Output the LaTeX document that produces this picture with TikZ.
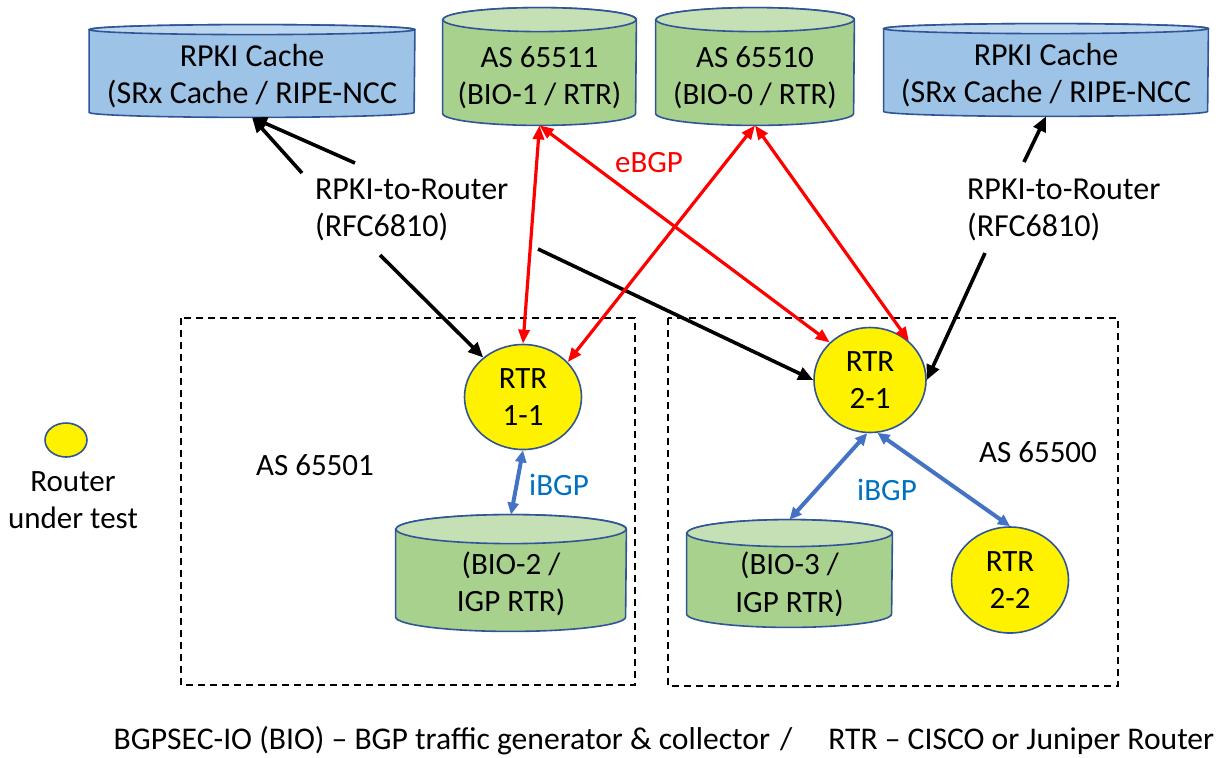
\documentclass[tikz,border=0pt]{standalone}
\usepackage{fontspec}
\setmainfont{Carlito}
\usetikzlibrary{arrows.meta,positioning,shapes.geometric}

\definecolor{cacheblue}{HTML}{9DC3E6}
\definecolor{cachetop}{HTML}{BDD7EE}
\definecolor{biogreen}{HTML}{A9D18E}
\definecolor{biotop}{HTML}{C5E0B4}
\definecolor{edgeblue}{HTML}{2F5597}
\definecolor{ibgpblue}{HTML}{4472C4}
\definecolor{ibgptext}{HTML}{0070C0}

% database drum: [kind] name, position, half width, half height, end radius, text
\newcommand{\dbnode}[7][bio]{%
    \node[minimum width=2*#4, minimum height=2*#5, inner sep=0pt] (#2) at #3 {};
    \path[db, #1 body] ([yshift=-#6]#2.north west) -- ([yshift=#6]#2.south west)
        arc[start angle=180, end angle=360, x radius=#4, y radius=#6]
        -- ([yshift=-#6]#2.north east)
        arc[start angle=0, end angle=180, x radius=#4, y radius=#6] -- cycle;
    \path[db, #1 end] ([yshift=-#6]#2.north) ellipse[x radius=#4, y radius=#6];
    \node[#1 text] (#2-txt) at (#2.center) {#7};
}

\begin{document}
\begin{tikzpicture}[
    x=0.5pt, y=-0.5pt,
    every node/.style={font=\fontsize{15.5}{18.75}\selectfont, align=center},
    big/.style={font=\fontsize{16}{18.75}\selectfont},
    db/.style={draw=edgeblue, line width=0.8pt},
    cache body/.style={fill=cacheblue},
    cache end/.style={fill=cachetop},
    cache text/.style={big, yshift=-2.5pt},
    bio body/.style={fill=biogreen},
    bio end/.style={fill=biotop},
    bio text/.style={yshift=-5.5pt},
    rtr/.style={ellipse, draw=edgeblue, line width=0.8pt, fill=yellow, inner sep=0pt},
    asbox/.style={draw, line width=1pt, dash pattern=on 3.5pt off 2.5pt},
    rpki/.style={-{Triangle[length=7.5pt,width=6.5pt]}, line width=1.8pt},
    ebgp/.style={{Triangle[length=7pt,width=5.5pt]}-{Triangle[length=7pt,width=5.5pt]}, line width=1.6pt, red},
    ibgp/.style={{Triangle[length=6pt,width=5.5pt]}-{Triangle[length=6pt,width=5.5pt]}, line width=2pt, ibgpblue}
]
    \useasboundingbox (0,0) rectangle (1225,757);

    % AS boxes
    \draw[asbox] (181,318) rectangle (635,685);
    \draw[asbox] (668,318) rectangle (1118,686);

    % Caches and BIOs on top
    \dbnode[cache]{cacheL}{(252,71)}{81.25pt}{23pt}{2.5pt}{RPKI Cache\\(SRx Cache / RIPE-NCC}
    \dbnode[cache]{cacheR}{(1046,70)}{81pt}{23pt}{2.5pt}{RPKI Cache\\(SRx Cache / RIPE-NCC}
    \dbnode{bio1}{(539.5,66.5)}{48.25pt}{29.25pt}{6pt}{AS 65511\\(BIO-1 / RTR)}
    \dbnode{bio0}{(755,66.5)}{49.5pt}{29.25pt}{6pt}{AS 65510\\(BIO-0 / RTR)}

    % Routers
    \node[rtr, minimum width=58.5pt, minimum height=52.5pt] (rtr11) at (523,397) {RTR\\1-1};
    \node[rtr, minimum width=56pt, minimum height=52.5pt] (rtr21) at (870,380) {RTR\\2-1};
    \node[rtr, minimum width=58.5pt, minimum height=53pt] (rtr22) at (1010,580) {RTR\\2-2};

    % Inner BIOs
    \dbnode{bio2}{(511,573)}{57.5pt}{29pt}{7.25pt}{(BIO-2 /\\IGP RTR)}
    \dbnode{bio3}{(789.5,573.5)}{51.25pt}{26.75pt}{6.75pt}{(BIO-3 /\\IGP RTR)}

    % Labels
    \node[big, anchor=west, align=left] (lblL) at (308,210) {RPKI-to-Router\\(RFC6810)};
    \node[big, anchor=west, align=left] (lblR) at (960,210) {RPKI-to-Router\\(RFC6810)};
    \node[text=red] (lblE) at (649,163) {eBGP};
    \node[text=ibgptext] (lblI1) at (559,485) {iBGP};
    \node[text=ibgptext] (lblI2) at (887,490) {iBGP};
    \node (as1) at (315,465) {AS 65501};
    \node (as0) at (1038,452) {AS 65500};

    % Legend
    \node[rtr, minimum width=21pt, minimum height=17pt] (key) at (66,440) {};
    \node (keytxt) at (73,500) {Router\\under test};
    \node[font=\fontsize{15.8}{18.75}\selectfont] (note) at (664,741)
        {BGPSEC-IO (BIO) -- BGP traffic generator \& collector\hspace{5pt}/\hspace{18pt}RTR -- CISCO or Juniper Router};

    % RPKI-to-Router
    \coordinate (l1) at (302,173);
    \coordinate (l2) at (355,163);
    \coordinate (l3) at (380,255);
    \coordinate (l4) at (538,249);
    \coordinate (r1) at (1024,162);
    \coordinate (r2) at (985,253);
    \draw[rpki] (l1) -- (cacheL.south);
    \draw[rpki] (l2) -- (cacheL.south);
    \draw[rpki] (l3) -- (rtr11);
    \draw[rpki] (l4) -- (rtr21.west);
    \draw[rpki] (r1) -- (cacheR.south);
    \draw[rpki] (r2) -- (rtr21.east);

    % eBGP
    \draw[ebgp] (bio1.south) -- (rtr11.north);
    \draw[ebgp] (bio1.south) -- (rtr21.137);
    \draw[ebgp] (bio0.south) -- (rtr11.38);
    \draw[ebgp] (bio0.south) -- (rtr21.45);

    % iBGP
    \draw[ibgp] (rtr11.south) -- (bio2.north);
    \draw[ibgp] (rtr21.267) -- (bio3.north);
    \draw[ibgp] (rtr21.-82) -- (rtr22.north);
\end{tikzpicture}
\end{document}
